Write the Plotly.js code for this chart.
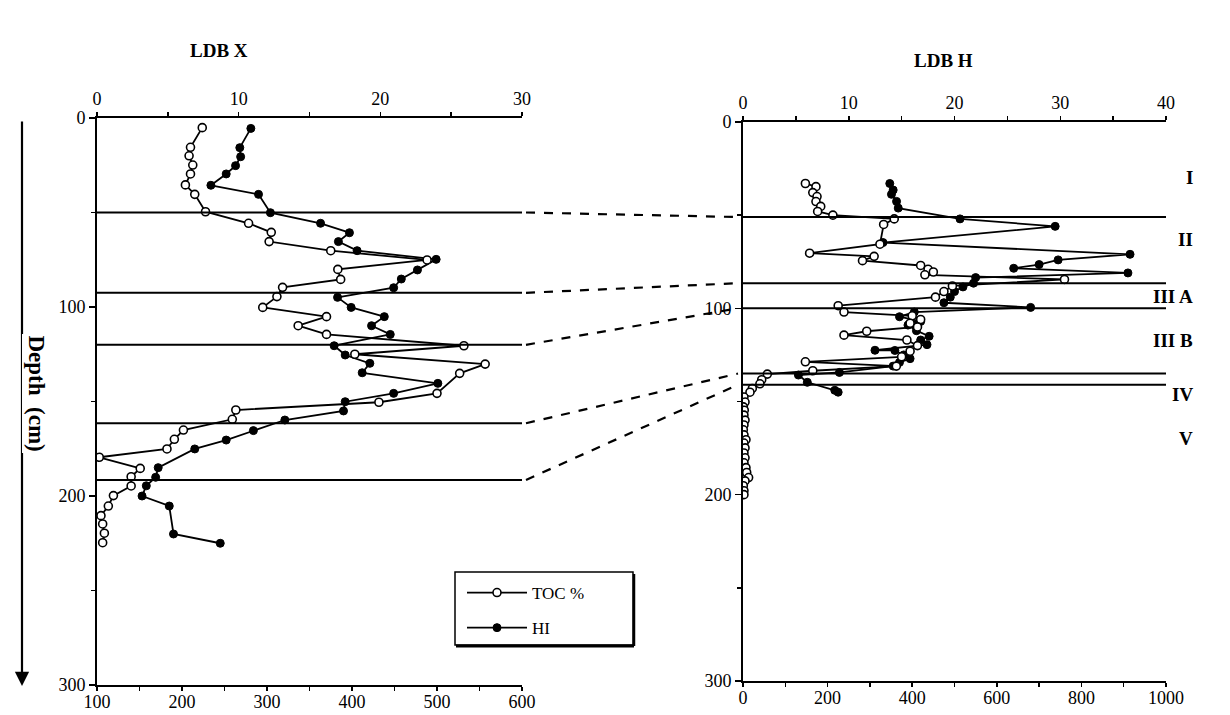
<!DOCTYPE html>
<html>
<head>
<meta charset="utf-8">
<script src="https://cdn.plot.ly/plotly-3.0.1.min.js"></script>
<style>html,body{margin:0;padding:0;background:#fff;}#chart{width:1230px;height:715px;}</style>
</head>
<body>
<div id="chart"></div>
<script>
// ---- LDB X (left core) ----
const leftTocDepth = [5.1,15.5,20,24.9,29.6,35.4,40.4,49.6,55.7,60.5,65.4,70.2,75.1,80.1,85.4,89.6,94.5,100.2,105.1,109.9,114.5,120.5,125,130.2,135.1,145.7,150.4,154.5,159.4,165.1,170,175.1,179.5,185.4,189.8,194.7,199.8,205.3,210.4,214.8,219.7,224.7];
const leftToc = [7.43,6.6,6.5,6.76,6.6,6.24,6.9,7.66,10.7,12.3,12.15,16.5,23.3,17.0,17.2,13.1,12.7,11.7,16.2,14.2,16.2,25.9,18.2,27.4,25.6,24.0,19.9,9.8,9.55,6.1,5.46,4.94,0.16,3.05,2.41,2.41,1.16,0.8,0.28,0.4,0.52,0.4];
const leftHiDepth = [5.5,15.7,20.5,25.2,29.6,35.6,40.4,50.1,55.7,60.7,65.4,70.2,74.8,80.4,85.2,89.8,94.9,100.2,105.1,109.9,114.5,120.5,125.4,129.8,134.8,140.4,145.7,150.1,155,159.8,165.4,170.4,175.1,185,190.1,194.6,200,205.3,220.1,225];
const leftHi = [281,268,269,263,252,234,290,304,363,397,384,406,499,477,458,449,383,399,438,423,445,379,392,421,412,501,449,392,390,321,284,252,215,172,169,158,153,185,190,245];
const leftBounds = [50, 92.5, 120, 161.5, 191.5];

// ---- LDB H (right core) ----
const rightTocDepth = [33,34.7,37.9,40,42.7,45.3,48,50,52,55,65.6,70.4,72.1,74.4,77,79,80.5,82,84.5,88,91,94,98.6,102,104,106,108,110,112.3,114.4,117,120,123,126,128.7,131,133.5,135.3,138.3,140.5,143,145,147.6,150.3,152.9,154.7,157.3,160,162.6,165.2,167.9,170.5,172.3,174.9,177.6,180.2,182.9,185.5,188.1,190.8,192.6,195.2,197.9,200];
const rightToc = [5.9,6.9,6.6,7.0,6.9,7.35,7.06,8.5,14.3,13.3,12.95,6.3,12.4,11.3,16.8,17.5,18.0,17.2,30.4,19.8,19.0,18.2,9.0,9.55,16.0,16.8,15.8,16.5,11.7,9.55,15.5,16.5,15.8,15.0,5.9,14.5,6.6,2.3,1.77,1.6,0.88,0.66,0.09,0.19,0.03,0.12,0.09,0.19,0.09,0.03,0.09,0.28,0.09,0.19,0.09,0.19,0.09,0.28,0.35,0.53,0.19,0.03,0.09,0.09];
const rightHiDepth = [33,36.5,38.8,42.6,46.2,52,56,64.7,71,74,76.5,78.5,81,83.5,86.5,88.5,91,94,97,99.5,102,104.5,107,109,112,115,117,119.5,122.5,122.6,125,127,129,131,134.4,135.8,139.7,144,145];
const rightHi = [347,355,351,363,367,513,738,331,915,745,700,640,910,550,545,520,500,490,475,680,405,370,420,390,410,440,420,435,312,359,380,395,370,355,228,131,152,217,225];
const rightBounds = [51, 86.5, 100, 135, 141];
const zoneLabels = ["I","II","III A","III B","IV","V"];
const zoneLabelDepths = [30, 63, 93.5, 117, 146, 170];

const titles = ["LDB X", "LDB H"];
const legendNames = ["TOC %", "HI"];

// ---- layout geometry ----
const W = 1230, H = 715;
const domLX = [97/W, 522/W], domRX = [743/W, 1166/W];
const domLY = [1-685/H, 1-118/H], domRY = [1-681/H, 1-122/H];
const serif = "Liberation Serif, Times New Roman, serif";

function py(dom, d){ return dom[1] - d/300*(dom[1]-dom[0]); }

const openMarker = {symbol:'circle', size:8, color:'#fff', line:{color:'#000', width:1.6}};
const fillMarker = {symbol:'circle', size:8, color:'#000', line:{color:'#000', width:1}};
const lineStyle = {color:'#000', width:1.8};

const traces = [
  {x:leftToc, y:leftTocDepth, xaxis:'x2', yaxis:'y', mode:'lines+markers', name:legendNames[0], legendgroup:'a', line:lineStyle, marker:openMarker},
  {x:leftHi, y:leftHiDepth, xaxis:'x', yaxis:'y', mode:'lines+markers', name:legendNames[1], legendgroup:'b', line:lineStyle, marker:fillMarker},
  {x:rightHi, y:rightHiDepth, xaxis:'x3', yaxis:'y2', mode:'lines+markers', showlegend:false, line:lineStyle, marker:fillMarker},
  {x:rightToc, y:rightTocDepth, xaxis:'x4', yaxis:'y2', mode:'lines+markers', showlegend:false, line:lineStyle, marker:openMarker}
];

const tickFont = {family:serif, size:18, color:'#000'};
function xax(extra){
  return Object.assign({showgrid:false, zeroline:false, showline:true, linecolor:'#000', linewidth:2,
    ticks:'outside', ticklen:4, tickwidth:1.5, tickcolor:'#000', tickfont:tickFont, ticklabelstandoff:-5, fixedrange:true}, extra);
}
function yax(extra){
  return Object.assign({showgrid:false, zeroline:false, showline:true, linecolor:'#000', linewidth:2,
    ticks:'outside', ticklen:6, tickwidth:1.5, tickcolor:'#000', tickfont:tickFont,
    range:[300,0], tickvals:[0,100,200,300], minor:{dtick:50, ticklen:4, ticks:'outside', tickcolor:'#000'}}, extra);
}

const shapes = [];
leftBounds.forEach(d => shapes.push({type:'line', xref:'x2', yref:'y', x0:0, x1:30, y0:d, y1:d, line:{color:'#000', width:2}}));
rightBounds.forEach(d => shapes.push({type:'line', xref:'x4', yref:'y2', x0:0, x1:40, y0:d, y1:d, line:{color:'#000', width:2}}));
leftBounds.forEach((d,i) => shapes.push({type:'line', xref:'paper', yref:'paper',
  x0:domLX[1]+4/W, x1:domRX[0]-5/W, y0:py(domLY,d), y1:py(domRY,rightBounds[i]),
  line:{color:'#000', width:2.2, dash:'dash'}}));
// legend frame with heavier bottom/right edge like the original
shapes.push({type:'rect', xref:'paper', yref:'paper', x0:455/W, x1:633/W, y0:1-645/H, y1:1-572/H, line:{color:'#000', width:1.5}, fillcolor:'rgba(0,0,0,0)'});
shapes.push({type:'line', xref:'paper', yref:'paper', x0:456/W, x1:634/W, y0:1-646/H, y1:1-646/H, line:{color:'#000', width:3}});
shapes.push({type:'line', xref:'paper', yref:'paper', x0:634/W, x1:634/W, y0:1-574/H, y1:1-646/H, line:{color:'#000', width:2.5}});

const annotations = [
  {text:'<b>'+titles[0]+'</b>', xref:'paper', yref:'paper', x:188/W, y:1-38/H, showarrow:false, font:{family:serif, size:19, color:'#000'}},
  {text:'<b>'+titles[1]+'</b>', xref:'paper', yref:'paper', x:975/W, y:1-48/H, showarrow:false, font:{family:serif, size:19, color:'#000'}},
  {text:'', xref:'paper', yref:'paper', x:22/W, y:1-686/H, ax:0, ay:-566, showarrow:true, arrowhead:2, arrowsize:1.3, arrowwidth:2.2, arrowcolor:'#000'},
  {text:'<b>Depth  (cm)</b>', xref:'paper', yref:'paper', x:22/W, y:1-393/H, showarrow:false, textangle:90, bgcolor:'#fff', font:{family:serif, size:23, color:'#000'}}
];
zoneLabels.forEach((t,i) => annotations.push({text:'<b>'+t+'</b>', xref:'paper', yref:'y2', x:1195/W, y:zoneLabelDepths[i], showarrow:false, font:{family:serif, size:19, color:'#000'}}));

const layout = {
  width:W, height:H, margin:{l:0, r:0, t:0, b:0}, paper_bgcolor:'#fff', plot_bgcolor:'rgba(0,0,0,0)',
  showlegend:true,
  legend:{x:462/W, y:1-575/H, xanchor:'left', yanchor:'top', bgcolor:'rgba(0,0,0,0)', borderwidth:0,
          font:{family:serif, size:17, color:'#000'}, itemwidth:60, tracegroupgap:10},
  xaxis: xax({domain:domLX, anchor:'y', side:'bottom', range:[100,600], tickvals:[100,200,300,400,500,600],
              minor:{dtick:50, ticklen:4, ticks:'outside', tickcolor:'#000'}}),
  xaxis2: xax({overlaying:'x', anchor:'y', side:'top', range:[0,30], tickvals:[0,10,20,30], ticklabelstandoff:0,
              minor:{dtick:5, ticklen:4, ticks:'outside', tickcolor:'#000'}}),
  xaxis3: xax({domain:domRX, anchor:'y2', side:'bottom', range:[0,1000], tickvals:[0,200,400,600,800,1000],
              minor:{dtick:100, ticklen:4, ticks:'outside', tickcolor:'#000'}}),
  xaxis4: xax({overlaying:'x3', anchor:'y2', side:'top', range:[0,40], tickvals:[0,10,20,30,40], ticklabelstandoff:0,
              minor:{dtick:5, ticklen:4, ticks:'outside', tickcolor:'#000'}}),
  yaxis: yax({domain:domLY, anchor:'x'}),
  yaxis2: yax({domain:domRY, anchor:'x3'}),
  shapes: shapes,
  annotations: annotations
};

Plotly.newPlot('chart', traces, layout, {displayModeBar:false, staticPlot:true});
</script>
</body>
</html>
